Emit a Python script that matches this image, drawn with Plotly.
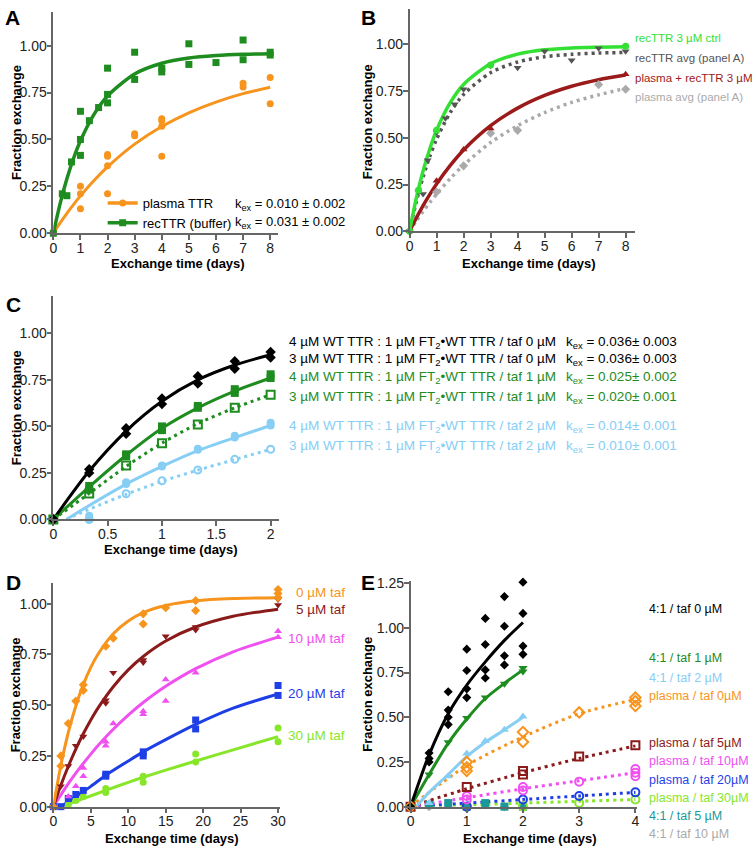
import plotly.graph_objects as go

W, H = 756, 854
FONT = "Liberation Sans, Arial, sans-serif"

# ---------------- Panel A data ----------------
a_plasma_t = [0, 1, 1, 1, 2, 2, 2, 2, 3, 3, 4, 4, 4, 4, 7, 7, 8, 8]
a_plasma_v = [0, 0.25, 0.21, 0.13, 0.42, 0.41, 0.36, 0.21, 0.53, 0.52, 0.61, 0.60, 0.57, 0.41, 0.80, 0.78, 0.83, 0.69]
a_rec_t = [0, 0.33, 0.5, 0.67, 1, 1, 1, 1.33, 1.67, 2, 2, 2, 3, 3, 4, 4, 5, 5, 6, 7, 7, 8, 8]
a_rec_v = [0, 0.21, 0.20, 0.38, 0.65, 0.50, 0.415, 0.60, 0.67, 0.88, 0.74, 0.695, 0.965, 0.82, 0.88, 0.86,
           1.01, 0.90, 0.91, 1.03, 0.925, 0.965, 0.95]
a_fit_t = [0, 0.25, 0.5, 0.75, 1, 1.5, 2, 3, 4, 5, 6, 7, 8]
a_plasma_fit = [0, 0.055, 0.106, 0.154, 0.199, 0.281, 0.354, 0.475, 0.569, 0.642, 0.699, 0.744, 0.778]
a_rec_fit = [0, 0.158, 0.290, 0.401, 0.493, 0.634, 0.732, 0.849, 0.906, 0.934, 0.947, 0.954, 0.957]

# ---------------- Panel B data ----------------
b_fit_t = [0, 0.25, 0.5, 0.75, 1, 1.5, 2, 3, 4, 5, 6, 7, 8]
b_ctrl_t = [0, 0.33, 1, 3, 8]
b_ctrl_v = [0, 0.22, 0.54, 0.89, 0.99]
b_ctrl_fit = [0, 0.177, 0.323, 0.442, 0.541, 0.687, 0.786, 0.897, 0.948, 0.971, 0.981, 0.985, 0.988]
b_recavg_t = [0, 0.33, 0.5, 0.67, 1, 1.33, 1.67, 2, 3, 4, 5, 6, 7, 8]
b_recavg_v = [0, 0.21, 0.20, 0.38, 0.53, 0.605, 0.68, 0.76, 0.886, 0.875, 0.963, 0.916, 0.98, 0.963]
b_recavg_fit = [0, 0.158, 0.290, 0.401, 0.493, 0.634, 0.732, 0.849, 0.906, 0.934, 0.947, 0.954, 0.957]
b_plrec_t = [0, 1, 2, 3, 8]
b_plrec_v = [0, 0.27, 0.437, 0.55, 0.84]
b_plrec_fit = [0, 0.071, 0.137, 0.197, 0.253, 0.351, 0.435, 0.565, 0.659, 0.727, 0.776, 0.811, 0.836]
b_plavg_t = [0, 1, 2, 3, 4, 7, 8]
b_plavg_v = [0, 0.21, 0.35, 0.525, 0.54, 0.785, 0.76]
b_plavg_fit = [0, 0.055, 0.106, 0.154, 0.199, 0.281, 0.354, 0.475, 0.565, 0.635, 0.69, 0.73, 0.765]

# ---------------- Panel C data ----------------
c_t = [0, 0.33, 0.67, 1, 1.33, 1.67, 2]
c_blk4 = [0, 0.27, 0.49, 0.65, 0.77, 0.85, 0.90]
c_blk3 = [0, 0.25, 0.46, 0.62, 0.73, 0.81, 0.87]
c_blk_fit = [0, 0.26, 0.475, 0.635, 0.75, 0.83, 0.885]
c_grn4 = [0, 0.18, 0.35, 0.48, 0.60, 0.68, 0.76]
c_grn4b = [0, 0.16, 0.34, 0.50, 0.61, 0.70, 0.78]
c_grn4_fit = [0, 0.175, 0.345, 0.49, 0.60, 0.69, 0.76]
c_grn3 = [0, 0.14, 0.29, 0.41, 0.51, 0.60, 0.67]
c_grn3_fit = [0, 0.14, 0.285, 0.41, 0.515, 0.60, 0.67]
c_blu4 = [0, 0.02, 0.19, 0.285, 0.375, 0.44, 0.505]
c_blu4b = [0, 0.0, 0.20, 0.29, 0.38, 0.45, 0.52]
c_blufit_t = [0.12, 0.33, 0.67, 1, 1.33, 1.67, 2]
c_blu4_fit = [0, 0.075, 0.19, 0.285, 0.37, 0.44, 0.505]
c_blu3 = [0, 0.0, 0.138, 0.208, 0.266, 0.323, 0.377]
c_blu3_fit = [0, 0.055, 0.135, 0.205, 0.265, 0.322, 0.377]
c_labels = [
    ("4 µM WT TTR : 1 µM FT<sub>2</sub>•WT TTR / taf 0 µM", "k<sub>ex</sub> = 0.036± 0.003", "#000000"),
    ("3 µM WT TTR : 1 µM FT<sub>2</sub>•WT TTR / taf 0 µM", "k<sub>ex</sub> = 0.036± 0.003", "#000000"),
    ("4 µM WT TTR : 1 µM FT<sub>2</sub>•WT TTR / taf 1 µM", "k<sub>ex</sub> = 0.025± 0.002", "#1E8C1E"),
    ("3 µM WT TTR : 1 µM FT<sub>2</sub>•WT TTR / taf 1 µM", "k<sub>ex</sub> = 0.020± 0.001", "#1E8C1E"),
    ("4 µM WT TTR : 1 µM FT<sub>2</sub>•WT TTR / taf 2 µM", "k<sub>ex</sub> = 0.014± 0.001", "#87CEF5"),
    ("3 µM WT TTR : 1 µM FT<sub>2</sub>•WT TTR / taf 2 µM", "k<sub>ex</sub> = 0.010± 0.001", "#87CEF5"),
]

# ---------------- Panel D data ----------------
d_fit_t = [0, 1, 2, 3, 4, 5, 6, 8, 10, 12, 15, 19, 24, 30]
d_t0_t = [0, 1, 1, 2, 3, 4, 4, 7, 8, 12, 12, 15, 19, 19, 30, 30, 30]
d_t0_v = [0, 0.25, 0.20, 0.41, 0.52, 0.60, 0.573, 0.79, 0.83, 0.95, 0.90, 0.98, 1.015, 0.966, 1.07, 1.05, 1.03]
d_t0_fit = [0, 0.203, 0.366, 0.496, 0.601, 0.686, 0.753, 0.852, 0.915, 0.956, 0.991, 1.014, 1.025, 1.029]
d_t5_t = [0, 1, 2, 3, 4, 7, 7, 8, 12, 12, 15, 19, 19, 30, 30]
d_t5_v = [0, 0.10, 0.20, 0.30, 0.346, 0.524, 0.51, 0.66, 0.723, 0.71, 0.84, 0.885, 0.87, 0.994, 1.02]
d_t5_fit = [0, 0.105, 0.199, 0.284, 0.359, 0.427, 0.488, 0.591, 0.674, 0.740, 0.816, 0.885, 0.938, 0.973]
d_t10_t = [0, 2, 3, 4, 4, 7, 7, 8, 12, 12, 15, 15, 19, 30, 30]
d_t10_v = [0, 0.05, 0.10, 0.15, 0.19, 0.30, 0.32, 0.41, 0.47, 0.455, 0.626, 0.52, 0.66, 0.864, 0.835]
d_t10_fit = [0, 0.058, 0.113, 0.165, 0.213, 0.259, 0.302, 0.381, 0.451, 0.513, 0.593, 0.680, 0.763, 0.835]
d_t20_t = [0, 1, 2, 3, 4, 7, 7, 12, 12, 19, 19, 30, 30]
d_t20_v = [0, 0.0, 0.04, 0.06, 0.08, 0.15, 0.16, 0.25, 0.27, 0.427, 0.383, 0.597, 0.548]
d_t20_fit_t = [1, 3, 5, 7, 10, 12, 15, 19, 24, 30]
d_t20_fit = [0, 0.05, 0.10, 0.155, 0.225, 0.27, 0.33, 0.405, 0.485, 0.555]
d_t30_t = [0, 2, 3, 4, 7, 7, 12, 12, 19, 19, 30, 30]
d_t30_v = [0, 0.01, 0.03, 0.05, 0.09, 0.07, 0.15, 0.12, 0.26, 0.22, 0.388, 0.32]
d_t30_fit_t = [1, 4, 7, 10, 12, 15, 19, 24, 30]
d_t30_fit = [0, 0.04, 0.08, 0.12, 0.145, 0.18, 0.225, 0.28, 0.345]
d_labels = [("0 µM taf", "#F7941D"), ("5 µM taf", "#8B1A1A"), ("10 µM taf", "#F050F0"),
            ("20 µM taf", "#1F3FE6"), ("30 µM taf", "#88E62A")]

# ---------------- Panel E data ----------------
e_blk_t = [0, 0.33, 0.33, 0.33, 0.67, 0.67, 0.67, 0.67, 1, 1, 1, 1, 1.33, 1.33, 1.33, 1.33,
           1.67, 1.67, 1.67, 1.67, 2, 2, 2, 2]
e_blk_v = [0, 0.30, 0.27, 0.25, 0.643, 0.54, 0.50, 0.459, 0.881, 0.762, 0.659, 0.61, 1.053, 0.907, 0.765, 0.72,
           1.175, 1.009, 0.844, 0.793, 1.256, 1.081, 0.898, 0.852]
e_fit_t = [0, 0.33, 0.67, 1, 1.33, 1.67, 2]
e_blk_fit = [0, 0.29, 0.52, 0.68, 0.81, 0.93, 1.03]
e_grn_t = [0, 0.33, 0.67, 1, 1.33, 1.67, 2, 2]
e_grn_v = [0, 0.18, 0.36, 0.496, 0.61, 0.688, 0.756, 0.775]
e_grn_fit = [0, 0.18, 0.355, 0.49, 0.605, 0.69, 0.765]
e_lbl_t = [0, 0.33, 0.67, 1, 1.33, 1.67, 2]
e_lbl_v = [0, 0.02, 0.17, 0.297, 0.367, 0.43, 0.505]
e_lbl_fit_t = [0.1, 0.33, 0.67, 1, 1.33, 1.67, 2]
e_lbl_fit = [0, 0.08, 0.18, 0.28, 0.36, 0.43, 0.50]
e_pl_fit_t = [0, 1, 2, 3, 4]
e_org_t = [0, 1, 1, 1, 2, 2, 3, 4, 4, 4]
e_org_v = [0, 0.25, 0.22, 0.20, 0.417, 0.362, 0.527, 0.61, 0.59, 0.563]
e_org_fit = [0, 0.23, 0.39, 0.52, 0.60]
e_red_t = [0, 1, 2, 2, 3, 4]
e_red_v = [0, 0.11, 0.20, 0.18, 0.28, 0.343]
e_red_fit = [0, 0.10, 0.19, 0.27, 0.34]
e_mag_t = [0, 1, 1, 2, 2, 3, 4, 4, 4]
e_mag_v = [0, 0.06, 0.04, 0.11, 0.09, 0.14, 0.21, 0.19, 0.17]
e_mag_fit = [0, 0.05, 0.10, 0.145, 0.19]
e_blu_t = [0, 1, 2, 3, 4]
e_blu_v = [0, 0.0, 0.04, 0.06, 0.08]
e_blu_fit = [0, 0.02, 0.04, 0.06, 0.08]
e_lgr_t = [0, 1, 2, 3, 4]
e_lgr_v = [0, 0.0, 0.0, 0.02, 0.04]
e_lgr_fit = [0, 0.01, 0.02, 0.03, 0.04]
e_teal_t = [0, 0.33, 0.67, 1, 1.33, 1.67, 2]
e_teal_v = [0, 0.01, 0.02, 0.0, 0.02, 0.0, 0.0]
e_gray_t = [0, 0.33, 0.67, 1, 1.33, 1.67, 2]
e_gray_v = [0, 0.0, 0.02, 0.0, 0.01, 0.0, 0.01]
e_labels = [("4:1 / taf 0 µM", "#000000"), ("4:1 / taf 1 µM", "#1E8C1E"), ("4:1 / taf 2 µM", "#87CEF5"),
            ("plasma / taf 0µM", "#F7941D"), ("plasma / taf 5µM", "#8B1A1A"), ("plasma / taf 10µM", "#F050F0"),
            ("plasma / taf 20µM", "#1F3FE6"), ("plasma / taf 30µM", "#88E62A"), ("4:1 / taf 5 µM", "#1A9999"),
            ("4:1 / taf 10 µM", "#AAAAAA")]


def px(x):
    return x / W


def py(y):
    return 1 - y / H


fig = go.Figure()


def pts(ax, x, y, color, symbol, size=7, lw=0, open_=False):
    fig.add_trace(go.Scatter(
        x=x, y=y, mode="markers", xaxis="x" + ax, yaxis="y" + ax, showlegend=False, cliponaxis=False,
        marker=dict(color=color, symbol=symbol, size=size,
                    line=dict(color=color, width=(2 if open_ else lw)))))


def curve(ax, x, y, color, width=3, dash="solid"):
    fig.add_trace(go.Scatter(
        x=x, y=y, mode="lines", xaxis="x" + ax, yaxis="y" + ax, showlegend=False, cliponaxis=False,
        line=dict(color=color, width=width, dash=dash, shape="spline", smoothing=0.8)))


ORG, GRN, BGRN = "#F7941D", "#1E8C1E", "#33E033"
DGRAY, LGRAY, DRED = "#555555", "#AAAAAA", "#9B1A1A"
LBLU, MAG, BLU, LGRN, TEAL = "#87CEF5", "#F050F0", "#1F3FE6", "#88E62A", "#1A9999"
DOT = "3px,4px"

# Panel A
curve("", a_fit_t, a_plasma_fit, ORG, 3)
curve("", a_fit_t, a_rec_fit, GRN, 3.5)
pts("", a_plasma_t, a_plasma_v, ORG, "circle", 7)
pts("", a_rec_t, a_rec_v, GRN, "square", 7)
fig.add_trace(go.Scatter(x=[None], y=[None], mode="lines+markers", name="plasma TTR",
                         line=dict(color=ORG, width=3.5), marker=dict(symbol="circle", size=7, color=ORG)))
fig.add_trace(go.Scatter(x=[None], y=[None], mode="lines+markers", name="recTTR (buffer)",
                         line=dict(color=GRN, width=3.5), marker=dict(symbol="square", size=7, color=GRN)))

# Panel B
curve("2", b_fit_t, b_plavg_fit, LGRAY, 3.5, DOT)
curve("2", b_fit_t, b_recavg_fit, DGRAY, 3.5, DOT)
curve("2", b_fit_t, b_plrec_fit, DRED, 3.5)
curve("2", b_fit_t, b_ctrl_fit, BGRN, 3.5)
pts("2", b_plavg_t, b_plavg_v, LGRAY, "diamond", 7)
pts("2", b_recavg_t, b_recavg_v, DGRAY, "triangle-down", 7)
pts("2", b_plrec_t, b_plrec_v, DRED, "triangle-up", 7)
pts("2", b_ctrl_t, b_ctrl_v, BGRN, "circle", 7)

# Panel C
curve("3", c_blufit_t, c_blu3_fit, LBLU, 3, DOT)
curve("3", c_blufit_t, c_blu4_fit, LBLU, 3)
curve("3", c_t, c_grn3_fit, GRN, 3, DOT)
curve("3", c_t, c_grn4_fit, GRN, 3)
curve("3", c_t, c_blk_fit, "#000000", 3)
pts("3", c_t, c_blu3, LBLU, "circle-open", 7, open_=True)
pts("3", c_t, c_blu4, LBLU, "circle", 8)
pts("3", c_t, c_blu4b, LBLU, "circle", 8)
pts("3", c_t, c_grn3, GRN, "square-open", 8, open_=True)
pts("3", c_t, c_grn4, GRN, "square", 8)
pts("3", c_t, c_grn4b, GRN, "square", 8)
pts("3", c_t, c_blk4, "#000000", "diamond", 8)
pts("3", c_t, c_blk3, "#000000", "diamond", 8)

# Panel D
curve("4", d_t30_fit_t, d_t30_fit, LGRN, 3)
curve("4", d_t20_fit_t, d_t20_fit, BLU, 3)
curve("4", d_fit_t, d_t10_fit, MAG, 3)
curve("4", d_fit_t, d_t5_fit, "#8B1A1A", 3)
curve("4", d_fit_t, d_t0_fit, ORG, 3)
pts("4", d_t30_t, d_t30_v, LGRN, "circle", 7)
pts("4", d_t20_t, d_t20_v, BLU, "square", 7)
pts("4", d_t10_t, d_t10_v, MAG, "triangle-up", 7)
pts("4", d_t5_t, d_t5_v, "#8B1A1A", "triangle-down", 7)
pts("4", d_t0_t, d_t0_v, ORG, "diamond", 7)

# Panel E
curve("5", e_pl_fit_t, e_lgr_fit, LGRN, 3, DOT)
curve("5", e_pl_fit_t, e_blu_fit, BLU, 3, DOT)
curve("5", e_pl_fit_t, e_mag_fit, MAG, 3, DOT)
curve("5", e_pl_fit_t, e_red_fit, "#8B1A1A", 3, DOT)
curve("5", e_pl_fit_t, e_org_fit, ORG, 3, DOT)
curve("5", e_lbl_fit_t, e_lbl_fit, LBLU, 3)
curve("5", e_fit_t, e_grn_fit, GRN, 3)
curve("5", e_fit_t, e_blk_fit, "#000000", 3)
pts("5", e_gray_t, e_gray_v, LGRAY, "diamond", 7)
pts("5", e_teal_t, e_teal_v, TEAL, "square", 8)
pts("5", e_lgr_t, e_lgr_v, LGRN, "circle-open", 8, open_=True)
pts("5", e_blu_t, e_blu_v, BLU, "circle-open", 8, open_=True)
pts("5", e_mag_t, e_mag_v, MAG, "circle-open", 8, open_=True)
pts("5", e_red_t, e_red_v, "#8B1A1A", "square-open", 8, open_=True)
pts("5", e_org_t, e_org_v, ORG, "diamond-open", 8, open_=True)
pts("5", e_lbl_t, e_lbl_v, LBLU, "triangle-up", 8)
pts("5", e_grn_t, e_grn_v, GRN, "triangle-down", 8)
pts("5", e_blk_t, e_blk_v, "#000000", "diamond", 7)


def xax(l, r, rng, dtick):
    return dict(domain=[px(l), px(r)], range=rng, dtick=dtick, tick0=0, showline=True, linecolor="#666666",
                linewidth=1.5, ticks="outside", ticklen=5, tickwidth=1.5, tickcolor="#666666", showgrid=False,
                zeroline=False, tickfont=dict(size=14, family=FONT, color="#222222"), fixedrange=True,
                ticklabelstandoff=-4)


def yax(b, t, rng, anchor):
    return dict(domain=[py(b), py(t)], range=rng, dtick=0.25, tick0=0, tickformat=".2f", showline=True,
                linecolor="#666666", linewidth=1.5, ticks="outside", ticklen=5, tickwidth=1.5,
                tickcolor="#666666", showgrid=False, zeroline=False, anchor=anchor,
                tickfont=dict(size=14, family=FONT, color="#222222"), fixedrange=True,
                ticklabelstandoff=-3)


xa = xax(50, 278, [0, 8.3], 1); xa["anchor"] = "y"
xb = xax(411, 639, [0, 8.33], 1); xb["anchor"] = "y2"
xc = xax(50, 279, [0, 2.08], 0.5); xc["anchor"] = "y3"
xd = xax(50, 280, [0, 30.3], 5); xd["anchor"] = "y4"
xe = xax(412, 641, [0, 4.02], 1); xe["anchor"] = "y5"

ann = []


def txt(x, y, s, color="#000000", size=13, bold=False, anchor="left", angle=0):
    ann.append(dict(x=px(x), y=py(y), xref="paper", yref="paper", text=("<b>%s</b>" % s if bold else s),
                    showarrow=False, xanchor=anchor, yanchor="middle", textangle=angle,
                    font=dict(size=size, color=color, family=FONT)))


# panel letters
for L, x, y in [("A", 9, 12), ("B", 369, 12), ("C", 10, 303), ("D", 10, 586), ("E", 369, 586)]:
    txt(x, y, L, size=21, bold=True, anchor="center")

# axis titles
for x, y in [(176, 262), (532, 262), (169, 553), (170, 846), (533, 846)]:
    txt(x, y, "Exchange time (days)", size=13, bold=True, anchor="center")
for x, y in [(12, 118), (368, 118), (12, 408), (12, 700), (368, 700)]:
    txt(x, y, "Fraction exchange", size=13, bold=True, anchor="center", angle=-90)

# panel A k_ex
txt(232, 202, "k<sub>ex</sub> = 0.010 ± 0.002", size=13)
txt(232, 220, "k<sub>ex</sub> = 0.031 ± 0.002", size=13)

# panel B labels
for (s, c), y in zip([("recTTR 3 µM ctrl", BGRN), ("recTTR avg (panel A)", DGRAY),
                      ("plasma + recTTR 3 µM", DRED), ("plasma avg (panel A)", LGRAY)], [33, 53, 73, 93]):
    txt(637, y, s, color=c, size=11.5)

# panel C labels
for (s, k, c), y in zip(c_labels, [342, 359, 378, 398, 427, 448]):
    txt(287, y, s, color=c, size=13.5)
    txt(568, y, k, color=c, size=13.5)

# panel D labels
for (s, c), (x, y) in zip(d_labels, [(294, 596), (294, 614), (286, 643), (286, 699), (286, 742)]):
    txt(x, y, s, color=c, size=13.5)

# panel E labels
for (s, c), y in zip(e_labels, [613, 663, 683, 702, 749, 768, 787, 805, 823, 842]):
    txt(652, y, s, color=c, size=12.5)

fig.update_layout(
    width=W, height=H, margin=dict(l=0, r=0, t=0, b=0),
    paper_bgcolor="white", plot_bgcolor="white",
    font=dict(family=FONT, size=13, color="#000000"),
    xaxis=xa, yaxis=yax(231, 6, [0, 1.18], "x"),
    xaxis2=xb, yaxis2=yax(229, 3, [0, 1.19], "x2"),
    xaxis3=xc, yaxis3=yax(522, 295, [0, 1.2], "x3"),
    xaxis4=xd, yaxis4=yax(814, 587, [0, 1.1], "x4"),
    xaxis5=xe, yaxis5=yax(814, 585, [0, 1.26], "x5"),
    showlegend=True,
    legend=dict(x=px(100), y=py(185), xanchor="left", yanchor="top", bgcolor="rgba(0,0,0,0)",
                font=dict(size=13, family=FONT), itemwidth=30, tracegroupgap=0),
    annotations=ann,
)

fig.write_html("out.html", config={"displayModeBar": False},
               post_script="document.body.style.margin='0';document.body.style.overflow='hidden';")
